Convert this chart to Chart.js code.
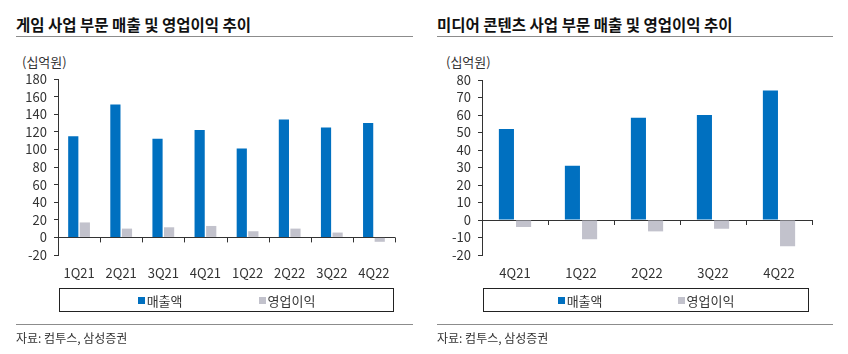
<!DOCTYPE html>
<html>
<head>
<meta charset="utf-8">
<script src="https://cdn.jsdelivr.net/npm/chart.js@4/dist/chart.umd.min.js"></script>
<style>
  body { margin: 0; background: #fff; }
  #page { position: relative; width: 848px; height: 354px; overflow: hidden; font-family: "Noto Sans CJK KR", "Liberation Sans", sans-serif; color: #222; }
  .title { position: absolute; top: 13px; font-size: 15.5px; font-weight: 700; line-height: 22px; color: #111; white-space: nowrap; }
  .rule { position: absolute; height: 1px; background: #8c8c8c; }
  .unit { position: absolute; top: 54px; font-size: 13px; line-height: 16px; color: #333; }
  .source { position: absolute; top: 330px; font-size: 12px; line-height: 16px; color: #333; white-space: nowrap; }
  .legend { position: absolute; top: 288px; height: 22px; border: 1.5px solid #222; display: flex; justify-content: center; align-items: center; font-size: 13px; color: #333; }
  .legend span.item { display: flex; align-items: center; }
  .legend i { display: inline-block; width: 7px; height: 7px; margin-right: 2px; }
  canvas { position: absolute; top: 0; }
</style>
</head>
<body>
<div id="page">
  <div class="title" style="left:16px">게임 사업 부문 매출 및 영업이익 추이</div>
  <div class="rule" style="left:16px; top:36px; width:397px"></div>
  <div class="unit" style="left:22px">(십억원)</div>
  <canvas id="game" width="424" height="354" style="left:0"></canvas>
  <div class="legend" id="gameLegend" style="left:59px; width:333px"></div>
  <div class="rule" style="left:16px; top:324px; width:397px"></div>
  <div class="source" style="left:16px">자료: 컴투스, 삼성증권</div>

  <div class="title" style="left:437px">미디어 콘텐츠 사업 부문 매출 및 영업이익 추이</div>
  <div class="rule" style="left:437px; top:36px; width:396px"></div>
  <div class="unit" style="left:446px">(십억원)</div>
  <canvas id="media" width="424" height="354" style="left:424px"></canvas>
  <div class="legend" id="mediaLegend" style="left:483px; width:324px"></div>
  <div class="rule" style="left:437px; top:324px; width:396px"></div>
  <div class="source" style="left:437px">자료: 컴투스, 삼성증권</div>
</div>
<script>
const seriesNames = ['매출액', '영업이익'];
const seriesColors = ['#0070c0', '#c2c2cc'];

const gameQuarters = ['1Q21', '2Q21', '3Q21', '4Q21', '1Q22', '2Q22', '3Q22', '4Q22'];
const gameSales = [115, 151, 112, 122, 101, 134, 125, 130];
const gameProfit = [17, 10, 11.5, 13, 7, 10, 5.5, -5];

const mediaQuarters = ['4Q21', '1Q22', '2Q22', '3Q22', '4Q22'];
const mediaSales = [52, 31, 58.5, 60, 74];
const mediaProfit = [-4, -11, -6.5, -5, -15];

const axisColor = '#333';
const tickFont = { family: '"Noto Sans CJK KR", "Liberation Sans", sans-serif', size: 13 };

// short ticks hanging under the zero line, between categories
const zeroTicks = {
    id: 'zeroTicks',
    afterDatasetsDraw(chart) {
        const xs = chart.scales.x, ys = chart.scales.y, ctx = chart.ctx;
        const y0 = ys.getPixelForValue(0);
        ctx.save();
        ctx.strokeStyle = axisColor;
        ctx.lineWidth = 1;
        ctx.beginPath();
        for (let i = 0; i <= xs.ticks.length; i++) {
            const px = Math.round(xs.getPixelForValue(i - 0.5)) + 0.5;
            ctx.moveTo(px, y0);
            ctx.lineTo(px, y0 + 5);
        }
        ctx.stroke();
        ctx.restore();
    }
};

function makeChart(id, labels, sales, profit, yMin, yMax, step, padTop, padRight, catPct) {
    return new Chart(document.getElementById(id), {
        type: 'bar',
        data: {
            labels: labels,
            datasets: [
                { label: seriesNames[0], data: sales, backgroundColor: seriesColors[0] },
                { label: seriesNames[1], data: profit, backgroundColor: seriesColors[1] }
            ]
        },
        options: {
            responsive: false,
            animation: false,
            devicePixelRatio: 1,
            layout: { padding: { left: 0, top: padTop, right: padRight, bottom: 69 } },
            datasets: { bar: { categoryPercentage: catPct, barPercentage: 0.88 } },
            plugins: { legend: { display: false }, tooltip: { enabled: false } },
            scales: {
                x: {
                    grid: { display: false, drawTicks: false },
                    border: { display: false },
                    ticks: { color: '#333', font: tickFont, padding: 10, maxRotation: 0, autoSkip: false },
                    afterFit: s => { s.height = 30; }
                },
                y: {
                    min: yMin,
                    max: yMax,
                    afterFit: s => { s.width = 58; },
                    border: { display: true, color: axisColor },
                    grid: {
                        drawOnChartArea: true,
                        color: c => (c.tick && c.tick.value === 0 ? axisColor : 'transparent'),
                        tickColor: axisColor,
                        tickLength: 4
                    },
                    ticks: { stepSize: step, color: '#333', font: tickFont, padding: 7, autoSkip: false }
                }
            }
        },
        plugins: [zeroTicks]
    });
}

function makeLegend(id, gap) {
    const box = document.getElementById(id);
    box.style.gap = gap + 'px';
    seriesNames.forEach((name, i) => {
        const item = document.createElement('span');
        item.className = 'item';
        item.innerHTML = `<i style="background:${seriesColors[i]}"></i>${name}`;
        box.appendChild(item);
    });
}

makeChart('game', gameQuarters, gameSales, gameProfit, -20, 180, 20, 79, 29, 0.55);
makeChart('media', mediaQuarters, mediaSales, mediaProfit, -20, 80, 10, 80, 36, 0.52);
makeLegend('gameLegend', 76);
makeLegend('mediaLegend', 75);
</script>
</body>
</html>
